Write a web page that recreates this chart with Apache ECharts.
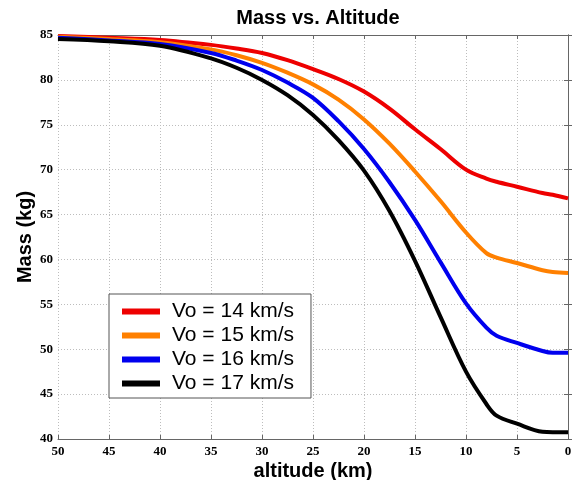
<!DOCTYPE html>
<html>
<head>
<meta charset="utf-8">
<script src="https://cdn.jsdelivr.net/npm/echarts@6/dist/echarts.min.js"></script>
<style>html,body{margin:0;padding:0;background:#fff}#c{width:573px;height:480px}</style>
</head>
<body>
<div id="c"></div>
<script>
var altitude = [0, 1.5, 2.5, 5, 7, 8, 10, 12.5, 15, 17.5, 20, 22.5, 25, 27.5, 30, 32.5, 35, 40, 45, 50];
var vo14 = [66.8, 67.2, 67.4, 68.1, 68.65, 69.0, 70.0, 72.3, 74.5, 76.8, 78.7, 80.1, 81.2, 82.2, 83.0, 83.5, 83.9, 84.45, 84.7, 84.9];
var vo15 = [58.5, 58.6, 58.8, 59.6, 60.2, 60.7, 63.0, 66.5, 69.8, 72.9, 75.6, 77.8, 79.5, 80.8, 81.9, 82.75, 83.4, 84.2, 84.55, 84.8];
var vo16 = [49.6, 49.6, 49.8, 50.7, 51.5, 52.4, 55.1, 59.7, 64.4, 68.6, 72.3, 75.4, 78.0, 79.7, 81.1, 82.15, 83.0, 84.0, 84.4, 84.7];
var vo17 = [40.75, 40.75, 40.8, 41.7, 42.6, 43.9, 47.5, 53.6, 59.85, 65.4, 69.9, 73.3, 76.1, 78.3, 80.0, 81.35, 82.4, 83.8, 84.3, 84.55];
var seriesNames = ['Vo = 14 km/s', 'Vo = 15 km/s', 'Vo = 16 km/s', 'Vo = 17 km/s'];
var seriesColors = ['#ee0000', '#ff8000', '#0000ee', '#000000'];
var xTicks = [0, 5, 10, 15, 20, 25, 30, 35, 40, 45, 50];
var yTicks = [40, 45, 50, 55, 60, 65, 70, 75, 80, 85];

function pairs(vals) { return altitude.map(function (a, i) { return [a, vals[i]]; }); }
var allVals = [vo14, vo15, vo16, vo17];

var tickFont = { fontFamily: 'Liberation Serif', fontWeight: 'bold', fontSize: 13, color: '#000' };
var chart = echarts.init(document.getElementById('c'), null, { renderer: 'canvas' });
var axisLine = { show: true, lineStyle: { color: '#666', width: 1 } };
var split = { show: true, lineStyle: { color: '#bdbdbd', type: [1, 2], width: 1 } };
chart.setOption({
  animation: false,
  backgroundColor: '#fff',
  title: {
    text: 'Mass vs. Altitude', left: 313, top: 3, textAlign: 'center',
    textStyle: { fontFamily: 'Liberation Sans', fontWeight: 'bold', fontSize: 20, color: '#000' }
  },
  grid: { left: 58, right: 5, top: 35, bottom: 41, containLabel: false, outerBoundsMode: 'none' },
  legend: {
    orient: 'vertical', left: 109, top: 294,
    data: seriesNames,
    backgroundColor: '#fff', borderColor: '#555', borderWidth: 1,
    padding: [7, 17, 4, 13], itemGap: 3, itemWidth: 38, itemHeight: 6,
    icon: 'rect',
    textStyle: { fontFamily: 'Liberation Sans', fontSize: 21, color: '#000', lineHeight: 21, padding: [0, 0, 0, 7] }
  },
  xAxis: [{
    type: 'value', inverse: true, min: 0, max: 50, interval: 5,
    name: 'altitude (km)', nameLocation: 'middle', nameGap: 22, nameMoveOverlap: false,
    nameTextStyle: { fontFamily: 'Liberation Sans', fontWeight: 'bold', fontSize: 20, color: '#000' },
    axisLine: axisLine, axisTick: { show: true, inside: true, length: 4, lineStyle: { color: '#666' } },
    axisLabel: Object.assign({ margin: 6, formatter: function (v) { return xTicks.indexOf(v) >= 0 ? String(v) : ''; } }, tickFont),
    splitLine: split
  }, {
    type: 'value', inverse: true, min: 0, max: 50, interval: 5, position: 'top',
    axisLine: axisLine, axisTick: { show: true, inside: true, length: 4, lineStyle: { color: '#666' } },
    axisLabel: { show: false }, splitLine: { show: false }
  }],
  yAxis: [{
    type: 'value', min: 40, max: 85, interval: 5,
    name: 'Mass (kg)', nameLocation: 'middle', nameGap: 23, nameMoveOverlap: false,
    nameTextStyle: { fontFamily: 'Liberation Sans', fontWeight: 'bold', fontSize: 20, color: '#000' },
    axisLine: axisLine, axisTick: { show: true, inside: true, length: 4, lineStyle: { color: '#666' } },
    axisLabel: Object.assign({ margin: 5, formatter: function (v) { return yTicks.indexOf(v) >= 0 ? String(v) : ''; } }, tickFont),
    splitLine: split
  }, {
    type: 'value', min: 40, max: 85, interval: 5, position: 'right',
    axisLine: axisLine, axisTick: { show: true, inside: true, length: 4, lineStyle: { color: '#666' } },
    axisLabel: { show: false }, splitLine: { show: false }
  }],
  series: allVals.map(function (v, i) {
    return {
      name: seriesNames[i], type: 'line', data: pairs(v),
      xAxisIndex: 0, yAxisIndex: 0,
      smooth: 0.35, showSymbol: false, symbol: 'none',
      lineStyle: { color: seriesColors[i], width: 4 },
      itemStyle: { color: seriesColors[i] }
    };
  })
});
</script>
</body>
</html>
